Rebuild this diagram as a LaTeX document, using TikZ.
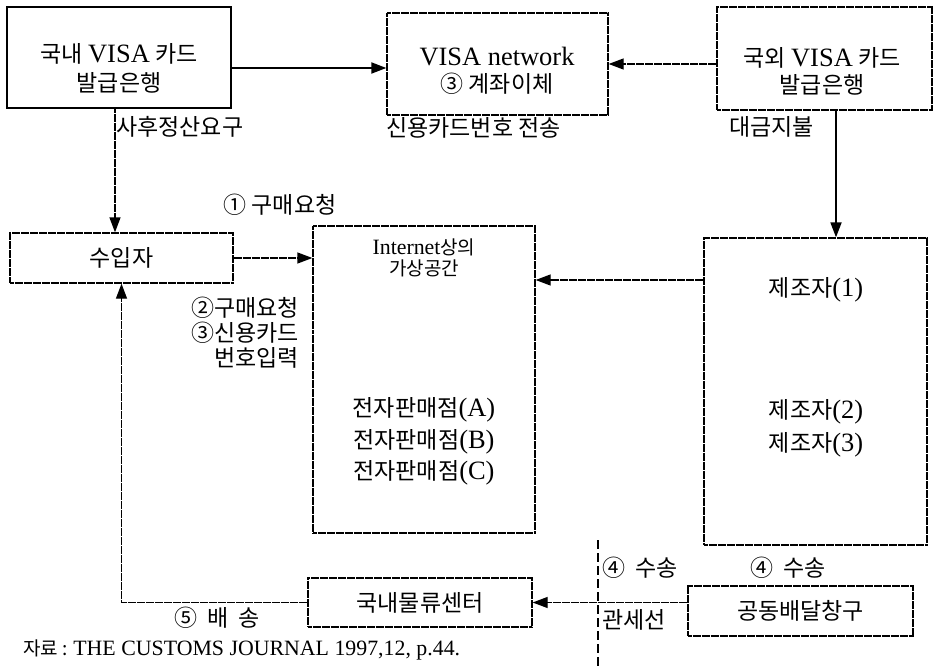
\documentclass[tikz,border=0pt]{standalone}
\usepackage{fontspec}
\setmainfont{Noto Sans CJK KR}
\newfontfamily\latfont[Scale=1.15]{Liberation Serif}
\newcommand{\lat}[1]{{\latfont #1}}
\usetikzlibrary{arrows.meta}

\tikzset{
  panel/.style={draw, line width=1.3pt, dash pattern=on 4pt off 0.5pt, inner sep=0pt, font=\fontsize{23}{27}\selectfont},
  bankpanel/.style={draw, line width=2.4pt, inner sep=0pt},
  flow/.style={line width=1.3pt, dash pattern=on 4pt off 0.5pt, -{Triangle[length=15pt,width=11pt]}},
  solidflow/.style={line width=1.8pt, -{Triangle[length=15pt,width=11pt]}},
  lbl/.style={inner sep=1pt, font=\fontsize{23}{27}\selectfont},
}

\begin{document}
\begin{tikzpicture}[x=1pt, y=-1pt]
\useasboundingbox (0,0) rectangle (935,666);

% Card banks and network
\node[bankpanel, minimum width=224, minimum height=101] (dombank) at (119,57.5) {};
\node[lbl, align=center, font=\fontsize{23}{29}\selectfont] (dombanktxt) at (119,68) {국내 \lat{VISA} 카드\\발급은행};
\node[panel, minimum width=221, minimum height=102] (visanet) at (497.5,64) {};
\node[lbl, align=center] (visanettxt) at (497,71) {\lat{VISA network}\\③ 계좌이체};
\node[panel, minimum width=215, minimum height=103] (forbank) at (824.5,58.5) {};
\node[lbl, align=center] (forbanktxt) at (822,71) {국외 \lat{VISA} 카드\\발급은행};

% Labels under the banks
\node[lbl, anchor=west] (sahu) at (115,127) {사후정산요구};
\node[lbl, anchor=west] (cardsend) at (385,128) {신용카드번호 전송};
\node[lbl, anchor=west] (daegeum) at (728,127) {대금지불};

% Importer and virtual space
\node[panel, minimum width=223, minimum height=50] (importer) at (121.5,258) {수입자};
\node[lbl] (order1) at (280,205) {① 구매요청};
\node[lbl, align=right, anchor=east, font=\fontsize{23}{25}\selectfont] (order2) at (300,333) {②구매요청\\③신용카드\\번호입력};
\node[panel, minimum width=222, minimum height=307] (internet) at (424,379.5) {};
\node[inner sep=1pt, align=center, font=\fontsize{19}{21}\selectfont] (vspace) at (424,258) {\lat{Internet}상의\\가상공간};
\node[inner sep=1pt, align=center, font=\fontsize{23}{31.5}\selectfont] (shops) at (424,441.5) {전자판매점\lat{(A)}\\전자판매점\lat{(B)}\\전자판매점\lat{(C)}};

% Manufacturers
\node[panel, minimum width=223, minimum height=307] (maker) at (815.5,391.5) {};
\node[lbl] (maker1) at (816,290) {제조자\lat{(1)}};
\node[inner sep=1pt, align=center, font=\fontsize{23}{33}\selectfont] (maker23) at (816,428.5) {제조자\lat{(2)}\\제조자\lat{(3)}};

% Delivery
\node[panel, minimum width=224, minimum height=49] (distrib) at (420,602.5) {국내물류센터};
\node[panel, minimum width=225, minimum height=50] (hub) at (800.5,611) {공동배달창구};
\node[lbl] (deliver) at (217,618) {⑤~~배~~송};
\node[lbl, anchor=west] (ship1) at (601,568) {④~~수송};
\node[lbl] (ship2) at (788,568) {④~~수송};
\node[lbl, anchor=west] (customs) at (601,620) {관세선};

% Customs line
\draw[line width=1.2pt, dash pattern=on 9pt off 4pt] (598,540) -- (598,666);

% Source
\node[lbl, anchor=west, font=\fontsize{19}{23}\selectfont] (source) at (22,650) {자료 : \lat{THE CUSTOMS JOURNAL 1997,12, p.44.}};

% Connectors
\coordinate (paydrop) at (836,0);
\coordinate (makerrow) at (0,280);
\draw[solidflow] (dombank.east |- dombanktxt) -- (visanet.west |- dombanktxt);
\draw[flow] (forbank.west |- visanet) -- (visanet.east);
\draw[flow] (dombank.south -| sahu.west) -- (importer.north -| sahu.west);
\draw[solidflow] (forbank.south -| paydrop) -- (maker.north -| paydrop);
\draw[flow] (importer.east) -- (internet.west |- importer.east);
\draw[flow] (maker.west |- makerrow) -- (internet.east |- makerrow);
\draw[flow] (distrib.west) -| (importer.south);
\draw[flow] (hub.west |- distrib.east) -- (distrib.east);
\end{tikzpicture}
\end{document}
